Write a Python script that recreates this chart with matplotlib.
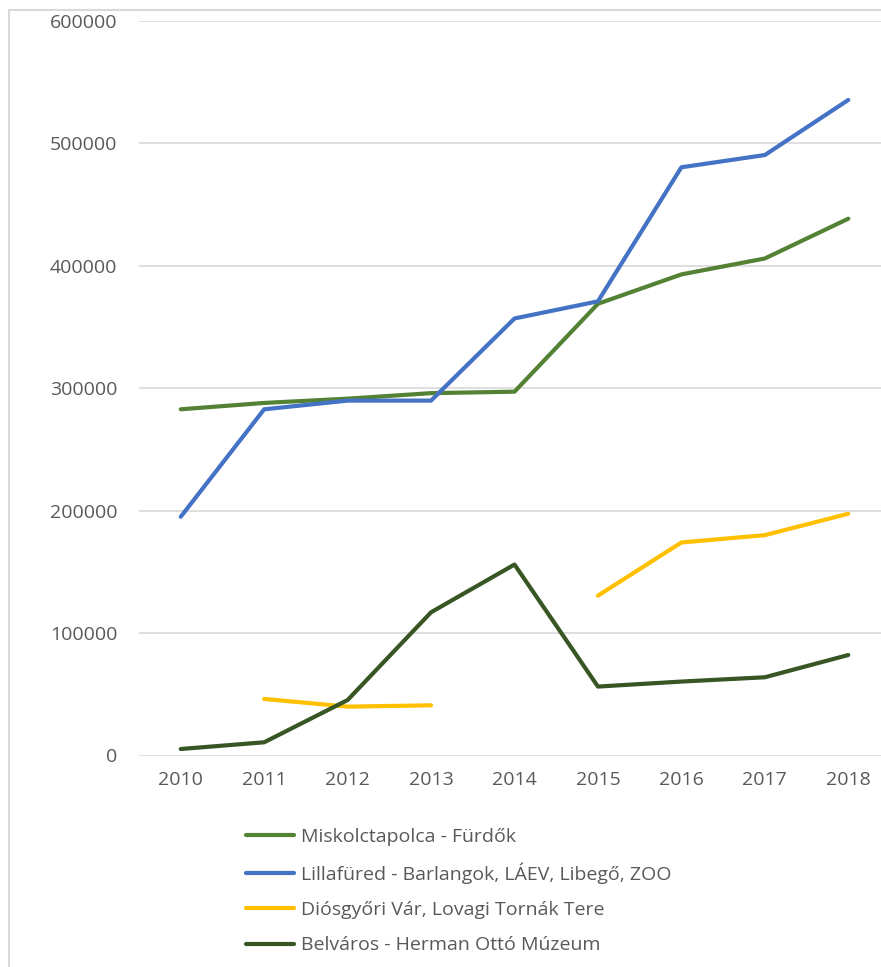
import matplotlib.pyplot as plt
from matplotlib.lines import Line2D
import numpy as np

plt.rcParams['font.family'] = ['Open Sans', 'DejaVu Sans']

years = ['2010', '2011', '2012', '2013', '2014', '2015', '2016', '2017', '2018']

miskolctapolca = [282800, 288000, 291500, 296000, 297200, 369000, 393000, 406000, 438500]
lillafured = [195000, 282800, 289900, 289900, 357000, 371000, 480500, 490500, 535500]
diosgyor = [np.nan, 46200, 39900, 41000, np.nan, 130600, 174000, 180000, 197500]
belvaros = [5300, 10800, 45300, 117000, 156000, 56300, 60400, 63900, 82100]

labels = ['Miskolctapolca - Fürdők',
          'Lillafüred - Barlangok, LÁEV, Libegő, ZOO',
          'Diósgyőri Vár, Lovagi Tornák Tere',
          'Belváros - Herman Ottó Múzeum']
colors = ['#548235', '#4472C4', '#FFC000', '#375623']

W, H = 881, 967
fig = plt.figure(figsize=(W / 100, H / 100), dpi=100)

# frame of the original chart (cropped)
fig.add_artist(Line2D([9 / W, 9 / W], [0, 1 - 10 / H], color='#D9D9D9', lw=1.5))
fig.add_artist(Line2D([9 / W, 1], [1 - 10 / H, 1 - 10 / H], color='#D9D9D9', lw=1.5))

left, right = 139 / W, 890 / W
bottom, top = 1 - 755.5 / H, 1 - 21 / H
ax = fig.add_axes([left, bottom, right - left, top - bottom])

x = np.arange(len(years))
series = [miskolctapolca, lillafured, diosgyor, belvaros]
for vals, lab, col in zip(series, labels, colors):
    ax.plot(x, vals, color=col, lw=3, label=lab, solid_capstyle='round',
            solid_joinstyle='round')

ax.set_xlim(-0.5, len(years) - 0.5)
ax.set_ylim(0, 600000)
ax.set_yticks(range(0, 600001, 100000))
ax.set_yticklabels([str(v) for v in range(0, 600001, 100000)])
ax.set_xticks(x)
ax.set_xticklabels(years)
ax.yaxis.grid(True, color='#D9D9D9', lw=1.2)
ax.set_axisbelow(True)
for s in ax.spines.values():
    s.set_visible(False)
ax.tick_params(axis='both', length=0, labelsize=14, labelcolor='#595959')
ax.tick_params(axis='y', pad=15.5)
ax.tick_params(axis='x', pad=11)
ax.patch.set_alpha(0)

fig.legend(loc='upper left', bbox_to_anchor=(228 / W, 1 - 810 / H), frameon=False,
           fontsize=14, labelcolor='#595959', handlelength=2.5, handletextpad=0.36,
           labelspacing=0.88)

fig.savefig('out.png', dpi=100)
